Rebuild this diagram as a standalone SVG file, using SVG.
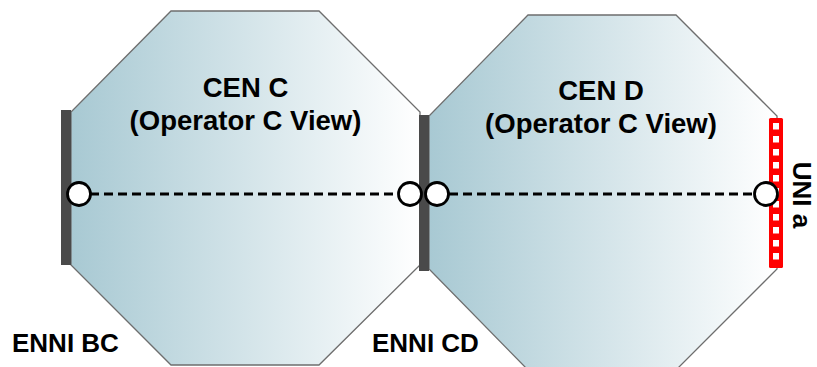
<svg xmlns="http://www.w3.org/2000/svg" width="817" height="367" viewBox="0 0 817 367">
  <defs>
    <linearGradient id="cenFill" x1="0" y1="0" x2="1" y2="0">
      <stop offset="0" stop-color="#a8c9d3"/>
      <stop offset="1" stop-color="#ffffff"/>
    </linearGradient>
    <style>
      .cen { fill: url(#cenFill); stroke: #6e6e6e; stroke-width: 1.3; }
      .enni { fill: #4a4a4a; }
      .lbl { font-family: "Liberation Sans", Arial, Helvetica, sans-serif; font-weight: bold; fill: #000; }
      .title { font-size: 27.5px; text-anchor: middle; }
      .side { font-size: 26px; }
      .evc { stroke: #000; stroke-width: 3; stroke-dasharray: 9 5; fill: none; }
      .ep { fill: #fff; stroke: #000; stroke-width: 2.8; }
    </style>
  </defs>

  <g id="cen-c">
    <polygon class="cen" points="171,11 319,11 420,112 420,265 319,365 171,365 71,265 71,112"/>
    <text class="lbl title" x="245.5" y="97">CEN C</text>
    <text class="lbl title" x="245.5" y="130">(Operator C View)</text>
  </g>

  <g id="cen-d">
    <polygon class="cen" points="528,15 676,15 777,116 777,269 676,370 528,370 429,269 429,116"/>
    <text class="lbl title" x="601" y="100">CEN D</text>
    <text class="lbl title" x="601" y="133">(Operator C View)</text>
  </g>

  <g id="enni-bc">
    <rect class="enni" x="61" y="110" width="10" height="155"/>
    <text class="lbl side" x="12" y="352">ENNI BC</text>
  </g>

  <g id="enni-cd">
    <rect class="enni" x="419" y="115" width="10" height="156"/>
    <text class="lbl side" x="372" y="352">ENNI CD</text>
  </g>

  <g id="uni-a">
    <rect x="769" y="118" width="14" height="150" rx="1.5" fill="#ff0000"/>
    <line x1="776" y1="123" x2="776" y2="264" stroke="#ffffff" stroke-width="6" stroke-dasharray="6.5 6.5"/>
    <text class="lbl side" text-anchor="middle" transform="translate(793,195) rotate(90)">UNI a</text>
  </g>

  <g id="connectors">
    <line class="evc" x1="90" y1="194" x2="399" y2="194"/>
    <line class="evc" x1="449" y1="194" x2="754" y2="194"/>
    <circle class="ep" cx="79" cy="194" r="11.5"/>
    <circle class="ep" cx="410" cy="194" r="11.5"/>
    <circle class="ep" cx="437" cy="194" r="11.5"/>
    <circle class="ep" cx="766" cy="194" r="11.5"/>
  </g>
</svg>
